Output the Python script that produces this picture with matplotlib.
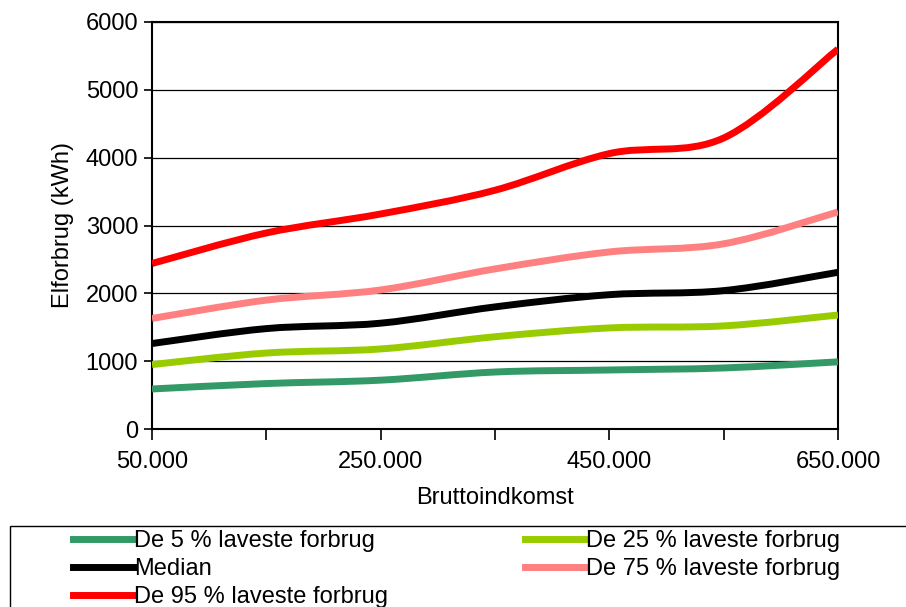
import numpy as np
import matplotlib.pyplot as plt
from matplotlib.path import Path
from matplotlib.patches import PathPatch, Rectangle
from matplotlib.lines import Line2D
from matplotlib.ticker import FuncFormatter

plt.rcParams['font.family'] = ['Liberation Sans', 'DejaVu Sans']

# indkomst (kr) og elforbrug (kWh)
income = [50000, 150000, 250000, 350000, 450000, 550000, 650000]
p5 = [590, 670, 720, 840, 870, 900, 990]
p25 = [950, 1120, 1180, 1360, 1490, 1520, 1680]
median = [1260, 1480, 1560, 1800, 1980, 2040, 2310]
p75 = [1630, 1900, 2050, 2360, 2610, 2730, 3200]
p95 = [2440, 2890, 3170, 3520, 4060, 4290, 5600]

labels = ['De 5 % laveste forbrug', 'De 25 % laveste forbrug', 'Median',
          'De 75 % laveste forbrug', 'De 95 % laveste forbrug']
colors = ['#339966', '#99CC00', '#000000', '#FF8080', '#FF0000']


def smooth_path(x, y):
    # bezier som excels "udjaevnet linje"
    p = np.column_stack([x, y]).astype(float)
    n = len(p)
    verts = [p[0]]
    codes = [Path.MOVETO]
    for i in range(n - 1):
        a = p[i - 1] if i > 0 else p[i]
        d = p[i + 2] if i + 2 < n else p[i + 1]
        c1 = p[i] + (p[i + 1] - a) / 6
        c2 = p[i + 1] - (d - p[i]) / 6
        verts += [c1, c2, p[i + 1]]
        codes += [Path.CURVE4] * 3
    return Path(verts, codes)


fig = plt.figure(figsize=(9.06, 6.07), dpi=100)
ax = fig.add_axes([152 / 906, 178 / 607, 686 / 906, 407 / 607])

series = [p5, p25, median, p75, p95]
handles = []
for vals, col, lab in zip(series, colors, labels):
    patch = PathPatch(smooth_path(income, vals), fill=False, edgecolor=col,
                      lw=5, capstyle='butt', zorder=3)
    ax.add_patch(patch)
    handles.append(Line2D([], [], color=col, lw=5, label=lab))

ax.set_xlim(50000, 650000)
ax.set_ylim(0, 6000)
ax.set_xticks(income)
ax.xaxis.set_major_formatter(FuncFormatter(
    lambda v, pos: f'{int(v):,}'.replace(',', '.') if pos % 2 == 0 else ''))
ax.set_yticks(range(0, 6001, 1000))
ax.grid(axis='y', color='black', lw=0.9)
ax.set_axisbelow(True)
for s in ax.spines.values():
    s.set_linewidth(1.5)
ax.tick_params(axis='both', labelsize=17, direction='out', width=1.2)
ax.tick_params(axis='x', length=8, pad=8)
ax.tick_params(axis='y', length=6, pad=4)
ax.set_xlabel('Bruttoindkomst', fontsize=17, labelpad=10)
ax.set_ylabel('Elforbrug (kWh)', fontsize=17, labelpad=8)

# legende-boks
fig.patches.append(Rectangle((10 / 906, -0.05), 1.0, 1.05 - 526 / 607,
                             transform=fig.transFigure, fill=False,
                             edgecolor='black', lw=1.0))
order = [0, 2, 4, 1, 3]
leg = fig.legend([handles[i] for i in order], [labels[i] for i in order],
                 loc='upper left', bbox_to_anchor=(73 / 906, 1 - 530 / 607),
                 ncol=2, fontsize=17, frameon=False,
                 handlelength=2.58, handletextpad=0.0, columnspacing=5.8,
                 labelspacing=0.26, borderpad=0, borderaxespad=0)

fig.savefig('out.png', dpi=100)
